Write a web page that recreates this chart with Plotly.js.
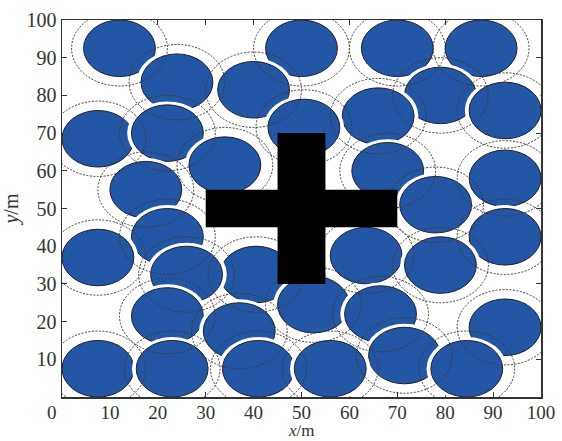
<!DOCTYPE html>
<html>
<head>
<meta charset="utf-8">
<script src="https://cdn.plot.ly/plotly-3.0.1.min.js"></script>
<style>html,body{margin:0;padding:0;background:#fff;}#chart{width:562px;height:441px;}</style>
</head>
<body>
<div id="chart"></div>
<script>
// Circle centres (m), in drawing order
const centerX = [12, 50, 70, 87.5, 24, 40, 79, 92.5, 66, 50.5, 7.5, 22, 34, 68, 92.5, 17.5, 78, 40.5, 22, 92.5, 7.5, 26, 63.5, 79, 52.5, 66.5, 22, 37, 92.5, 71.5, 7.5, 23, 41, 56, 84.5];
const centerY = [92.5, 92.5, 92.5, 92.5, 83.5, 81.5, 80, 76, 74.5, 71.5, 68.5, 70, 61.5, 60, 58, 55, 51, 32.5, 42.5, 42.5, 37, 32.5, 37.5, 35, 24.5, 22, 21.5, 17.5, 18.5, 11, 7.5, 7.5, 7.5, 7.5, 7.5];
const bodyRadius = 7.5;     // filled circle radius
const clearRadius = 8.4;    // white clearance band
const rangeRadius = 10;     // dashed range circle
// Cross-shaped obstacle: [x0, x1, y0, y1]
const crossBars = [[45, 55, 30, 70], [30, 70, 45, 55]];
const xTicks = [10, 20, 30, 40, 50, 60, 70, 80, 90, 100];
const yTicks = [10, 20, 30, 40, 50, 60, 70, 80, 90, 100];

const shapes = [];
function circ(cx, cy, r, fill, line) {
  return {type: 'circle', xref: 'x', yref: 'y', x0: cx - r, x1: cx + r, y0: cy - r, y1: cy + r,
          fillcolor: fill, line: line, layer: 'above'};
}
for (let i = 0; i < centerX.length; i++) {
  shapes.push(circ(centerX[i], centerY[i], clearRadius, '#ffffff', {width: 0}));
  shapes.push(circ(centerX[i], centerY[i], bodyRadius, '#2356a5', {color: '#1b1f33', width: 1}));
}
for (let i = 0; i < centerX.length; i++) {
  shapes.push(circ(centerX[i], centerY[i], rangeRadius, 'rgba(0,0,0,0)', {color: '#3a3a3a', width: 1, dash: '2px,1.5px'}));
}
crossBars.forEach(b => shapes.push({type: 'rect', xref: 'x', yref: 'y', x0: b[0], x1: b[1], y0: b[2], y1: b[3],
  fillcolor: '#000000', line: {width: 0}, layer: 'above'}));

const font = {family: 'Liberation Serif', size: 20, color: '#333333'};
const xTickFont = {family: 'Liberation Serif', size: 19, color: '#333333'};
const titleFont = {family: 'Liberation Serif', size: 17, color: '#333333'};
const axisCommon = {
  range: [0, 100], showgrid: false, zeroline: false, showline: true, linecolor: '#333333', linewidth: 1.5,
  mirror: 'ticks', ticks: 'inside', ticklen: 5, tickcolor: '#333333', tickwidth: 1, tickfont: font
};
const layout = {
  width: 562, height: 441,
  margin: {l: 62, r: 21, t: 20, b: 44},
  paper_bgcolor: '#ffffff', plot_bgcolor: '#ffffff',
  showlegend: false,
  xaxis: Object.assign({}, axisCommon, {tickvals: xTicks, tickfont: xTickFont, ticklabelstandoff: -2, automargin: false}),
  yaxis: Object.assign({}, axisCommon, {tickvals: yTicks, title: {text: '<i>y</i>/m', font: font, standoff: 6}, automargin: false}),
  shapes: shapes,
  annotations: [
    {xref: 'x', yref: 'paper', x: 0, y: 0, xshift: -10, yshift: -3, text: '0', showarrow: false,
     xanchor: 'center', yanchor: 'top', font: xTickFont},
    {xref: 'paper', yref: 'paper', x: 0.5, y: 0, yshift: -44, text: '<i>x</i>/m', showarrow: false,
     xanchor: 'center', yanchor: 'bottom', font: titleFont, borderpad: 0}
  ]
};
Plotly.newPlot('chart', [{x: [], y: [], type: 'scatter', mode: 'markers'}], layout, {displayModeBar: false, staticPlot: true});
</script>
</body>
</html>
